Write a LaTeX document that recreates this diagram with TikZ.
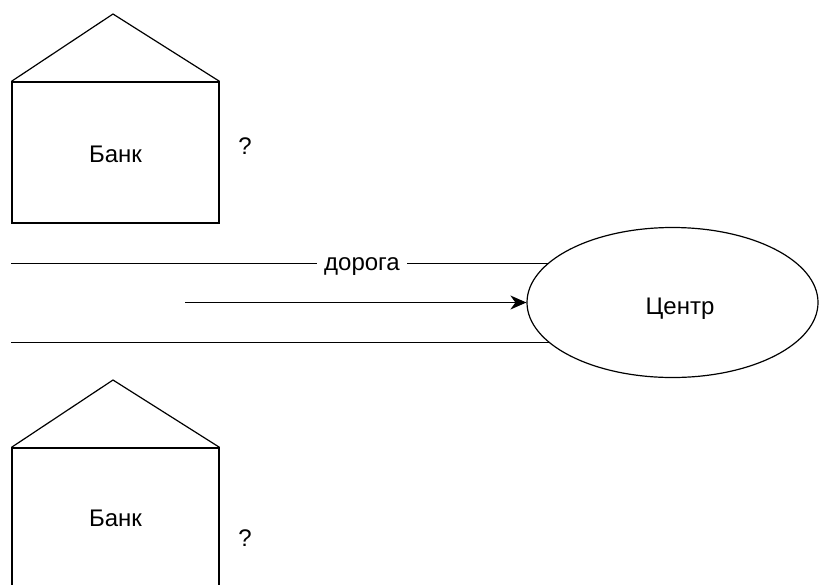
\documentclass[tikz,border=0pt]{standalone}
\usepackage{fontspec}
\setmainfont{Liberation Sans}
\usetikzlibrary{shapes.geometric,arrows.meta}

\begin{document}
\begin{tikzpicture}[x=1pt,y=-1pt,
    every node/.style={font=\fontsize{24}{28}\selectfont},
    stroke/.style={line width=1.2pt,black},
    bankbox/.style={draw,stroke,rectangle,minimum width=207pt,minimum height=141pt,inner sep=0pt},
    hub/.style={draw,stroke,ellipse,minimum width=291pt,minimum height=150pt,inner sep=0pt},
    lbl/.style={anchor=base,inner sep=0pt},
    arrowline/.style={stroke,-{Stealth[length=16pt,width=14pt,inset=5pt]}}]
  \useasboundingbox (0,0) rectangle (819,584);
  \clip (0,0) rectangle (819,584);

  % upper bank
  \node[bankbox] (bankA) at (115.5,152.5) {};
  \coordinate (roofA) at (113,14);
  \draw[stroke] (bankA.north west) -- (roofA) -- (bankA.north east);
  \node[lbl] (bankAtxt) at (115.5,162) {Банк};
  \node[lbl] (qA) at (245,154) {?};

  % lower bank (runs off the bottom edge)
  \node[bankbox] (bankB) at (115.5,518.5) {};
  \coordinate (roofB) at (113,380);
  \draw[stroke] (bankB.north west) -- (roofB) -- (bankB.north east);
  \node[lbl] (bankBtxt) at (115.5,526) {Банк};
  \node[lbl] (qB) at (245,546) {?};

  % centre
  \node[hub] (centre) at (672.5,302.5) {};
  \node[lbl] (centretxt) at (680,314) {Центр};

  % road edges
  \coordinate (roadTopL) at (11,263.5);
  \coordinate (roadTopR) at (548.8,263.5);
  \coordinate (roadBotL) at (11,342.5);
  \coordinate (roadBotR) at (548.8,342.5);
  \node[lbl,inner xsep=7pt] (road) at (362,270) {дорога};
  \draw[stroke] (roadTopL) -- (road.west |- roadTopL);
  \draw[stroke] (road.east |- roadTopR) -- (roadTopR);
  \draw[stroke] (roadBotL) -- (roadBotR);

  % traffic direction
  \coordinate (flowStart) at (185,302.5);
  \draw[arrowline] (flowStart) -- (centre.west);
\end{tikzpicture}
\end{document}
